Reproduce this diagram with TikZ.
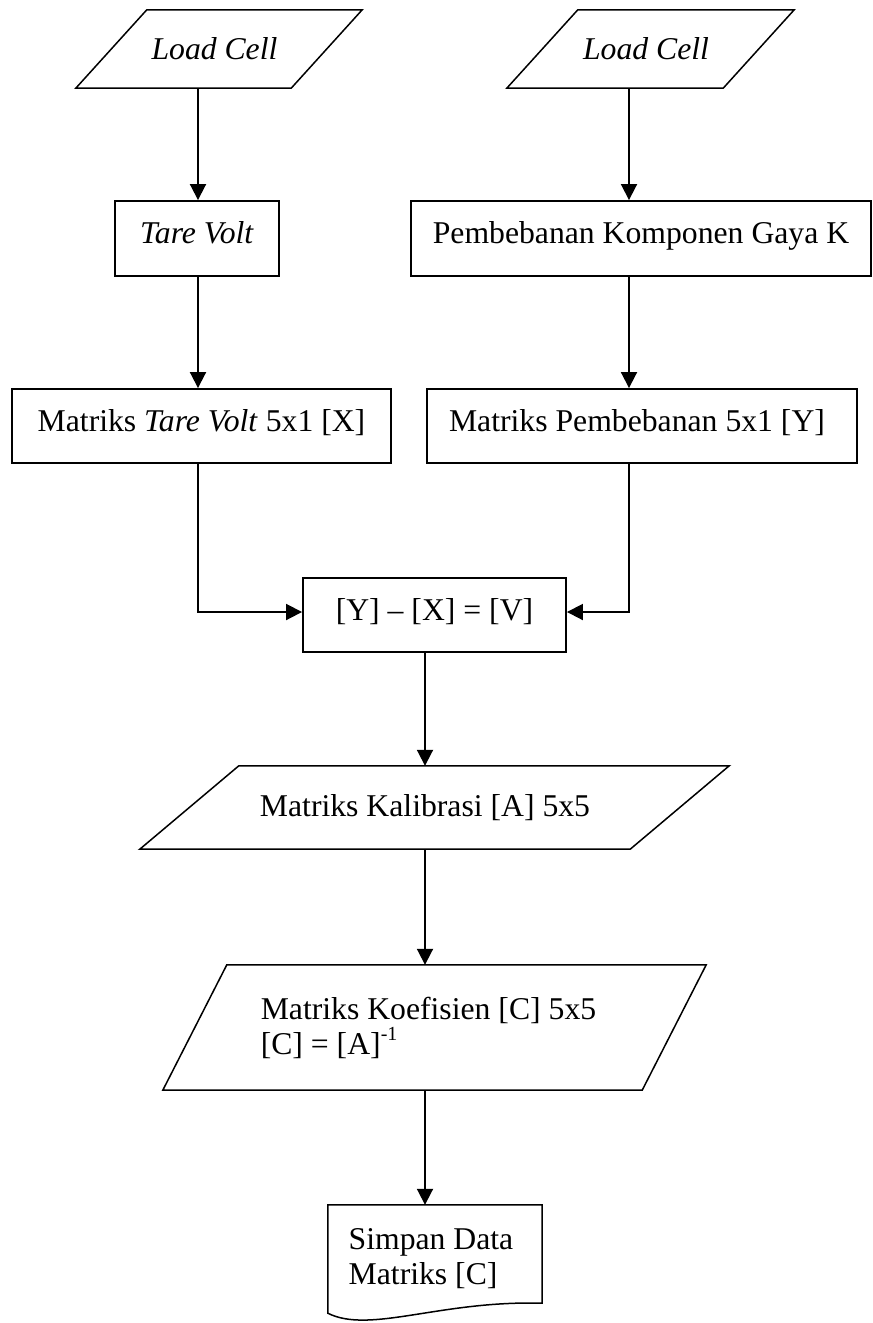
\documentclass[tikz,border=0pt]{standalone}
\usepackage{fontspec}
\setmainfont{Liberation Serif}
\usetikzlibrary{arrows.meta,calc}
\begin{document}
\begin{tikzpicture}[x=1pt,y=-1pt,
  every node/.style={font=\fontsize{31.7pt}{35pt}\selectfont, inner sep=0pt},
  rectbox/.style={draw, line width=1.9pt, text height=22pt, text depth=12pt},
  parabox/.style={draw=none},
  docbox/.style={draw=none, align=left},
  shapeline/.style={line width=1.5pt, line join=miter},
  flow/.style={line width=1.9pt, -{Triangle[length=16pt,width=16pt]}}
]
\useasboundingbox (0,0) rectangle (873,1323);
\newcommand\mkpara[2]{\draw[shapeline] (#1.south west) -- ([xshift=#2]#1.north west) -- (#1.north east) -- ([xshift=-#2]#1.south east) -- cycle;}

% column guides
\coordinate (colL) at (198,0);
\coordinate (colR) at (629,0);
\coordinate (colM) at (425,0);

% nodes
\node[parabox, minimum width=286pt, minimum height=78pt] (lc1) at (219,49) {\hspace*{-9pt}\textit{Load Cell}};
\node[parabox, minimum width=287pt, minimum height=78pt] (lc2) at (650.5,49) {\hspace*{-9pt}\textit{Load Cell}};
\mkpara{lc1}{71pt}
\mkpara{lc2}{71pt}

\node[rectbox, minimum width=164pt, minimum height=75pt] (tv) at (197,238.5) {\textit{Tare Volt}};
\node[rectbox, minimum width=460pt, minimum height=75pt] (pk) at (641,238.5) {Pembebanan Komponen Gaya K};

\node[rectbox, minimum width=379pt, minimum height=74pt] (mx) at (201.5,426) {Matriks \textit{Tare Volt} 5x1 [X]};
\node[rectbox, minimum width=430pt, minimum height=74pt] (my) at (642,426) {\hspace*{-10pt}Matriks Pembebanan 5x1 [Y]};

\node[rectbox, minimum width=263pt, minimum height=74pt] (eq) at (434.5,615) {[Y] – [X] = [V]};

\node[parabox, minimum width=589pt, minimum height=83pt] (ka) at (434.5,807.5) {\hspace*{-19pt}Matriks Kalibrasi [A] 5x5};
\mkpara{ka}{99pt}

\node[parabox, align=left, minimum width=543pt, minimum height=125pt] (ko) at (434.5,1027.5) {\hspace*{-12pt}Matriks Koefisien [C] 5x5\\\hspace*{-12pt}[C] = [A]\raisebox{14pt}{\fontsize{20pt}{20pt}\selectfont -1}};
\mkpara{ko}{64pt}

\node[docbox, minimum width=214pt, minimum height=108pt] (doc) at (435,1259) {\hspace*{-8pt}Simpan Data\\\hspace*{-8pt}Matriks [C]};
\draw[shapeline] (doc.south west) -- (doc.north west) -- (doc.north east) -- ($(doc.south east)+(0,-10)$)
  .. controls ($(doc.south east)+(-102,-13)$) and ($(doc.south west)+(42,21)$) .. (doc.south west) -- cycle;

% connectors
\draw[flow] (lc1.south -| colL) -- (tv.north -| colL);
\draw[flow] (tv.south -| colL) -- (mx.north -| colL);
\draw[flow] (lc2.south -| colR) -- (pk.north -| colR);
\draw[flow] (pk.south -| colR) -- (my.north -| colR);
\draw[flow] (mx.south -| colL) |- ([yshift=3pt]eq.west);
\draw[flow] (my.south -| colR) |- ([yshift=3pt]eq.east);
\draw[flow] (eq.south -| colM) -- (ka.north -| colM);
\draw[flow] (ka.south -| colM) -- (ko.north -| colM);
\draw[flow] (ko.south -| colM) -- (doc.north -| colM);
\end{tikzpicture}
\end{document}
